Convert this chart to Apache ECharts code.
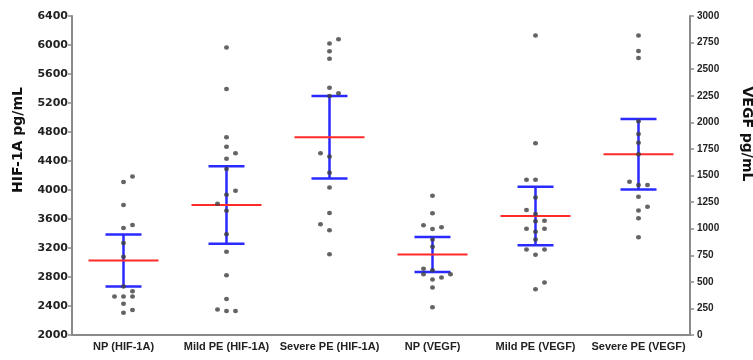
<!DOCTYPE html>
<html>
<head>
<meta charset="utf-8">
<script src="https://cdn.jsdelivr.net/npm/echarts@6/dist/echarts.min.js"></script>
<style>
    html, body { margin: 0; padding: 0; background: #fff; }
    #main { width: 753px; height: 360px; }
</style>
</head>
<body>
<div id="main"></div>
<script>
// categories on the x axis
const categories = ['NP (HIF-1A)', 'Mild PE (HIF-1A)', 'Severe PE (HIF-1A)', 'NP (VEGF)', 'Mild PE (VEGF)', 'Severe PE (VEGF)'];

// individual values, pg/mL (HIF-1A on left axis, VEGF on right axis)
// slot = which column of the dot plot the point sits in (-1 left, 0 centre, 1 right)
const npHif = [4186, 4109, 3793, 3518, 3477, 3270, 3078, 2670, 2605, 2532, 2532, 2532, 2432, 2344, 2308];
const npHifSlot = [1, 0, 0, 1, 0, 0, 0, 0, 1, -1, 0, 1, 0, 1, 0];
const mildHif = [5966, 5392, 4728, 4595, 4508, 4430, 4288, 3990, 3935, 3811, 3715, 3389, 3147, 2825, 2495, 2353, 2330, 2330];
const mildHifSlot = [0, 0, 0, 0, 1, 0, 0, 1, 0, -1, 0, 0, 0, 0, 0, -1, 0, 1];
const severeHif = [6080, 6020, 5915, 5809, 5410, 5333, 5296, 4508, 4461, 4237, 4035, 3683, 3526, 3444, 3114];
const severeHifSlot = [1, 0, 0, 0, 0, 1, 0, -1, 0, 0, 0, 0, -1, 0, 0];
const npVegf = [1310, 1144, 1031, 1013, 997, 897, 829, 622, 609, 572, 572, 541, 522, 447, 260];
const npVegfSlot = [0, 0, -1, 1, 0, 0, 0, -1, 0, -1, 2, 1, 0, 0, 0];
const mildVegf = [2816, 1804, 1460, 1460, 1294, 1176, 1138, 1075, 1069, 1000, 1000, 972, 897, 803, 803, 754, 494, 431];
const mildVegfSlot = [0, 0, -1, 0, 0, -1, 0, 1, 0, -1, 1, 0, 0, -1, 1, 0, 1, 0];
const severeVegf = [2816, 2672, 2606, 2010, 1891, 1809, 1700, 1441, 1410, 1410, 1300, 1207, 1172, 1097, 919];
const severeVegfSlot = [0, 0, 0, 0, 0, 0, 0, -1, 0, 1, 0, 1, 0, 0, 0];

// mean and error bar half-length per group
const groupMeans = [3027, 3793, 4728, 757, 1119, 1700];
const groupErrors = [358, 533, 570, 164, 275, 332];

const hifGroups = [[npHif, npHifSlot], [mildHif, mildHifSlot], [severeHif, severeHifSlot]];
const vegfGroups = [[npVegf, npVegfSlot], [mildVegf, mildVegfSlot], [severeVegf, severeVegfSlot]];

const axisGray = '#8a8a8a';
const labelColor = '#222';

const dotData = (groups, start) => {
    let out = [];
    groups.forEach((g, gi) => {
        g[0].forEach((v, k) => {
            out.push({ value: [start + gi, v], symbolOffset: [g[1][k] * 9, 0] });
        });
    });
    return out;
}

const barData = (from, to) => {
    let out = [];
    for (let i = from; i < to; i++) out.push([i, groupMeans[i], groupErrors[i]]);
    return out;
}

const renderBars = (params, api) => {
    const x = api.value(0), m = api.value(1), e = api.value(2);
    const c = api.coord([x, m]);
    const t = api.coord([x, m + e]);
    const b = api.coord([x, m - e]);
    const blue = { stroke: '#2a2aff', lineWidth: 2.5 };
    return {
        type: 'group',
        children: [
            { type: 'line', shape: { x1: c[0], y1: t[1], x2: c[0], y2: b[1] }, style: blue },
            { type: 'line', shape: { x1: c[0] - 18, y1: t[1], x2: c[0] + 18, y2: t[1] }, style: blue },
            { type: 'line', shape: { x1: c[0] - 18, y1: b[1], x2: c[0] + 18, y2: b[1] }, style: blue },
            { type: 'line', shape: { x1: c[0] - 35, y1: c[1], x2: c[0] + 35, y2: c[1] }, style: { stroke: '#ff2a2a', lineWidth: 2 } }
        ]
    };
}

const yAxisBase = {
    type: 'value',
    splitLine: { show: false },
    axisLine: { show: true, lineStyle: { color: axisGray, width: 2 } },
    axisTick: { show: true, length: 4, lineStyle: { color: axisGray, width: 1.5 } }
};

const chart = echarts.init(document.getElementById('main'));
const option = {
    animation: false,
    backgroundColor: '#fff',
    grid: { left: 72, right: 63, top: 16, bottom: 25, containLabel: false },
    xAxis: {
        type: 'category',
        data: categories,
        boundaryGap: true,
        axisLine: { lineStyle: { color: axisGray, width: 2 } },
        axisTick: { alignWithLabel: true, length: 4, lineStyle: { color: axisGray, width: 1.5 } },
        axisLabel: { color: labelColor, fontFamily: 'Liberation Sans', fontWeight: 'bold', fontSize: 11, margin: 6, interval: 0 }
    },
    yAxis: [
        Object.assign({}, yAxisBase, {
            position: 'left', min: 2000, max: 6400, interval: 400,
            axisLabel: { color: labelColor, fontFamily: 'DejaVu Sans', fontWeight: 'bold', fontSize: 11, margin: 4,
                         formatter: (v) => String(v) }
        }),
        Object.assign({}, yAxisBase, {
            position: 'right', min: 0, max: 3000, interval: 250,
            axisLabel: { color: labelColor, fontFamily: 'Liberation Sans', fontWeight: 'bold', fontSize: 10, margin: 7,
                         formatter: (v) => String(v) }
        })
    ],
    graphic: [
        { type: 'text', x: 18, y: 140, rotation: Math.PI / 2,
          style: { text: 'HIF-1A pg/mL', fill: '#111', font: 'bold 14px "DejaVu Sans"', align: 'center', verticalAlign: 'middle' } },
        { type: 'text', x: 747, y: 134, rotation: -Math.PI / 2,
          style: { text: 'VEGF pg/mL', fill: '#111', font: 'bold 14px "DejaVu Sans"', align: 'center', verticalAlign: 'middle' } }
    ],
    series: [
        { type: 'custom', yAxisIndex: 0, z: 2, renderItem: renderBars, data: barData(0, 3) },
        { type: 'custom', yAxisIndex: 1, z: 2, renderItem: renderBars, data: barData(3, 6) },
        { type: 'scatter', yAxisIndex: 0, z: 3, symbol: 'circle', symbolSize: [5, 4.5],
          itemStyle: { color: '#3d3d3d' }, data: dotData(hifGroups, 0) },
        { type: 'scatter', yAxisIndex: 1, z: 3, symbol: 'circle', symbolSize: [5, 4.5],
          itemStyle: { color: '#3d3d3d' }, data: dotData(vegfGroups, 3) }
    ]
};
chart.setOption(option);
</script>
</body>
</html>
